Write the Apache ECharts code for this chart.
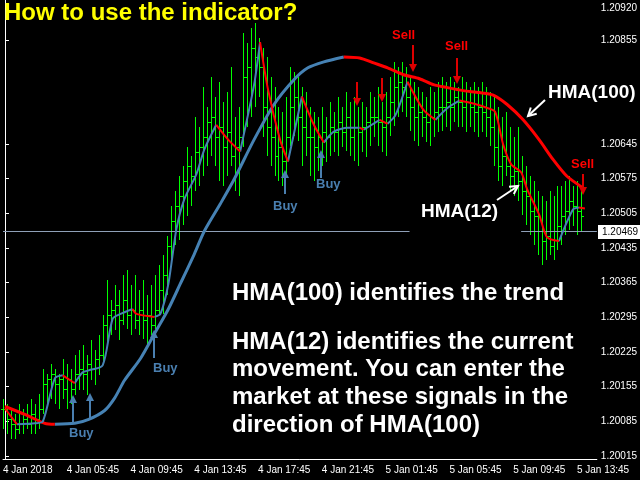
<!DOCTYPE html>
<html><head><meta charset="utf-8">
<script src="https://cdn.jsdelivr.net/npm/echarts@6/dist/echarts.min.js"></script>
<style>html,body{margin:0;padding:0;background:#000}#c{width:640px;height:480px}</style>
</head><body><div id="c"></div>
<script>
// values in units of 0.0001 above 1.2000
const barHigh=[13,12,11,10,12,11,12,13,12,14, 19,18,20,19,18,21,20,19,22,23, 24,22,25,23,26,30,37,33,36,35, 38,39,36,38,35,37,34,36,38,40, 42,46,52,55,58,60,64,62,70,68, 76,72,78,74,77,73,75,80,70,72, 87,85,88,89,86,84,82,78,76,72, 71,74,80,79,78,76,75,72,71,70, 72,70,73,71,74,72,75,73,74,72, 73,72,75,74,76,73,75,78,81,80, 81,80,78,77,76,75,74,76,75,77, 78,77,78,77,76,78,77,76,77,76, 77,76,75,74,72,70,71,68,66,68, 62,60,58,57,55,54,53,55,54,56, 56,57,58,56,57,55];
const barLow=[7,6,5,5,6,6,7,6,6,7, 10,12,13,12,11,13,11,12,14,15, 15,14,17,16,18,20,24,26,27,25, 28,27,26,27,26,25,24,26,27,30, 30,34,40,44,45,48,50,52,55,56, 58,60,62,60,57,56,58,60,55,54, 64,68,70,72,74,66,62,60,58,57, 56,58,64,66,65,60,62,58,57,59, 60,61,62,63,62,64,63,62,61,60, 63,62,64,66,64,63,62,66,68,70, 71,70,67,65,64,66,65,64,66,67, 67,68,67,69,68,68,67,68,67,66, 67,66,64,60,57,56,58,55,54,53, 50,48,46,44,42,40,41,42,41,43, 44,46,47,48,46,47];
const barClose=[11,9,8,7,8,9,8,10,9,11, 16,17,18,16,17,15,17,15,18,19, 18,20,19,21,22,28,30,31,32,29, 33,30,31,29,31,29,30,28,31,35, 38,44,49,52,54,57,60,58,63,64, 66,69,70,66,68,64,67,62,64,66, 78,80,84,82,80,72,68,66,62,64, 61,66,72,74,70,68,66,66,64,66, 67,66,68,67,69,67,70,66,68,67, 68,69,70,70,69,68,70,73,76,77, 76,74,72,70,71,70,69,70,71,72, 72,73,72,74,73,72,73,72,71,72, 71,70,68,64,60,62,60,58,59,57, 55,54,51,50,47,45,46,44,47,48, 50,51,53,52,51,50];
const hma12X=[0,3,7.5,9.5,12.5,14.5,17.5,19.5,21,24.5,27,29,32,33,37.5,39,41,43,45,48,50,53,56,59,62.5,64,66,69,71,74.5,77.5,80,82.5,86,89,90,94,96,98,101,105,108,111,114,117.5,121,123,125,127,129.5,131,134,136,139,142.5,144,145.5];
const hma12Y=[11.1,7.9,8.1,8.5,17.2,17.8,16.2,18.4,18.8,19.8,29.2,30.2,31.2,30.2,29.6,30.2,36.3,47.3,53.4,58.4,63.4,68.4,65.4,63.0,76.5,85.1,75.5,65.4,61.0,74.1,68.4,64.8,67.0,67.8,67.8,67.4,69.4,68.6,70.4,77.1,71.4,69.4,71.8,73.3,72.7,71.8,71.0,64.4,60.4,58.8,55.4,50.3,45.7,44.9,51.3,51.7,51.5];
const hma100X=[0,5,10,12.5,17.5,21,25,27.5,30,34,37.5,41,44,47.5,50,54,57.5,62.5,67.5,72.5,76,80,85,89,92.5,96,100,104,107.5,111,115,119,122.5,126,130,134,137.5,141,145.5];
const hma100Y=[11.5,9.9,8.1,7.9,8.1,8.9,10.7,13.2,16.8,21.2,26.2,31.2,36.3,42.3,46.9,52.4,57.4,65.4,72.5,77.5,79.9,81.1,82.1,81.9,80.9,79.9,78.5,77.7,76.5,75.9,75.3,74.9,74.4,72.5,69.4,65.4,61.4,58.0,55.4];
const yTicks=[1.20015,1.20085,1.20155,1.20225,1.20295,1.20365,1.20435,1.20505,1.20575,1.20645,1.20855,1.20920];
const lastPrice=1.20469;
const nCats=149;
const P=u=>+(1.2+u/10000).toFixed(5);
const cats=[];
for(let i=0;i<nCats;i++){const m=105+15*i;const d=4+Math.floor(m/1440);const mm=m%1440;
 cats.push(d+' Jan '+String(Math.floor(mm/60)).padStart(2,'0')+':'+String(mm%60).padStart(2,'0'));}
const ohlc=barHigh.map((h,i)=>[i,P(i?barClose[i-1]:barClose[0]),P(barClose[i]),P(barLow[i]),P(h)]);
function split(xs,ys){const r=[],b=[];
 for(let k=0;k<xs.length;k++){const fPrev=k>0&&ys[k]<ys[k-1],fNext=k<xs.length-1&&ys[k+1]<ys[k];
  const rPrev=k>0&&ys[k]>=ys[k-1],rNext=k<xs.length-1&&ys[k+1]>=ys[k];
  r.push([xs[k],(fPrev||fNext)?P(ys[k]):null]);b.push([xs[k],(rPrev||rNext)?P(ys[k]):null]);
  if(k<xs.length-1){const mid=(xs[k]+xs[k+1])/2;if(ys[k+1]<ys[k]) b.push([mid,null]); else r.push([mid,null]);}}
 return [r,b];}
const [r12,b12]=split(hma12X,hma12Y),[r100,b100]=split(hma100X,hma100Y);
const chart=echarts.init(document.getElementById('c'));
const ln=(d,c,w,z)=>({type:'line',xAxisIndex:1,data:d,symbol:'none',smooth:0.25,connectNulls:false,lineStyle:{color:c,width:w},z:z,silent:true});
const FF='Arial, "Liberation Sans", sans-serif';
const AF='"Liberation Sans", Arial, sans-serif';
const txt=(x,y,t,c,s)=>({type:'text',left:x,top:y,style:{text:t,fill:c,font:'bold '+s+'px '+FF},z:100});
const arrow=(x,y1,y2,c,w)=>{const dir=y2>y1?1:-1;return [
 {type:'line',shape:{x1:x,y1:y1,x2:x,y2:y2-dir*6},style:{stroke:c,lineWidth:w},z:100},
 {type:'polygon',shape:{points:[[x-4,y2-dir*8],[x+4,y2-dir*8],[x,y2]]},style:{fill:c},z:100}];};
const sarrow=(x1,y1,x2,y2)=>{const a=Math.atan2(y2-y1,x2-x1),L=9;return [
 {type:'line',shape:{x1,y1,x2,y2},style:{stroke:'#fff',lineWidth:2},z:100},
 {type:'polyline',shape:{points:[[x2-L*Math.cos(a-0.5),y2-L*Math.sin(a-0.5)],[x2,y2],[x2-L*Math.cos(a+0.5),y2-L*Math.sin(a+0.5)]]},style:{stroke:'#fff',lineWidth:2,fill:null},z:100}];};
const SB='#4a7fb0';
const G='#00ff00';
chart.setOption({
 backgroundColor:'#000',animation:false,
 grid:{left:2,right:42,top:0,bottom:21},
 xAxis:[{type:'category',data:cats,boundaryGap:true,
   axisLine:{lineStyle:{color:'#fff'}},axisTick:{interval:15,lineStyle:{color:'#fff'},length:4},
   axisLabel:{interval:15,color:'#fff',fontSize:10,fontFamily:AF,align:'left',margin:6,padding:[0,0,0,-2],
     formatter:(v,i)=>i===0?'4 Jan 2018':v},splitLine:{show:false}},
  {type:'value',min:-0.5,max:nCats-0.5,show:false}],
 yAxis:{type:'value',position:'right',min:1.20009,max:1.20936,scale:true,
   axisLine:{show:true,lineStyle:{color:'#fff'}},axisTick:{show:true,customValues:yTicks,lineStyle:{color:'#fff'},length:4},
   axisLabel:{customValues:yTicks,color:'#fff',fontSize:10,fontFamily:AF,margin:4,formatter:v=>v.toFixed(5)},
   splitLine:{show:false}},
 series:[
  {type:'custom',xAxisIndex:0,data:ohlc,z:2,silent:true,itemStyle:{color:G,borderColor:G},
   emphasis:{disabled:true},renderItem:(p,api)=>{
    const x=api.coord([api.value(0),api.value(1)])[0];
    const o=api.coord([api.value(0),api.value(1)])[1],c=api.coord([api.value(0),api.value(2)])[1];
    const l=api.coord([api.value(0),api.value(3)])[1],h=api.coord([api.value(0),api.value(4)])[1];
    const st={fill:G,stroke:null,lineWidth:0,opacity:1};const X=Math.floor(x)-1;
    return {type:'group',children:[
     {type:'rect',shape:{x:X,y:Math.round(h),width:1,height:Math.max(1,Math.round(l-h))},style:st},
     {type:'rect',shape:{x:X-2,y:Math.round(o),width:2,height:1},style:st},
     {type:'rect',shape:{x:X+1,y:Math.round(c),width:2,height:1},style:st}]};}},
  ln(b100,'#4682b4',3,5),ln(r100,'#ff0000',3,5),ln(b12,'#4682b4',2,6),ln(r12,'#ff0000',2,6),
  {type:'line',xAxisIndex:1,data:[],markLine:{silent:true,symbol:'none',label:{show:false},lineStyle:{color:'#8fa0b8',width:1,type:'solid'},
    data:[[{coord:[-0.5,lastPrice]},{coord:[101.5,lastPrice]}],[{coord:[129.5,lastPrice]},{coord:[148.5,lastPrice]}]]}}
 ],
 graphic:[
  txt(4,1,'How to use the indicator?','#ffff00',24),
  {type:'rect',shape:{x:598,y:225,width:42,height:14},style:{fill:'#fff'},z:99},
  {type:'text',left:602,top:227,style:{text:lastPrice.toFixed(5),fill:'#000',font:'10px '+AF},z:100},
  {type:'rect',shape:{x:544,y:80,width:96,height:32},style:{fill:'#000'},z:99},
  txt(548,83,'HMA(100)','#fff',19),
  txt(421,202,'HMA(12)','#fff',19),
  txt(232,281,'HMA(100) identifies the trend','#fff',24),
  txt(232,330,'HMA(12) identifies the current','#fff',24),
  txt(232,357,'movement. You can enter the','#fff',24),
  txt(232,385,'market at these signals in the','#fff',24),
  txt(232,413,'direction of HMA(100)','#fff',24),
  ...sarrow(545,100,528,116),...sarrow(497,200,518,186),
  txt(392,29,'Sell','#ff0000',13),txt(445,40,'Sell','#ff0000',13),txt(571,158,'Sell','#ff0000',13),
  ...arrow(413,45,72,'#dd0000',2),...arrow(457,58,84,'#dd0000',2),...arrow(583,174,195,'#dd0000',2),
  ...arrow(357,82,106,'#dd0000',2),...arrow(382,78,102,'#dd0000',2),
  ...arrow(73,423,395,SB,2),...arrow(90,420,393,SB,2),...arrow(154,358,330,SB,2),
  ...arrow(285,194,170,SB,2),...arrow(321,178,150,SB,2),
  txt(69,427,'Buy',SB,13),txt(153,362,'Buy',SB,13),txt(273,200,'Buy',SB,13),txt(316,178,'Buy',SB,13)
 ]
});
</script></body></html>
